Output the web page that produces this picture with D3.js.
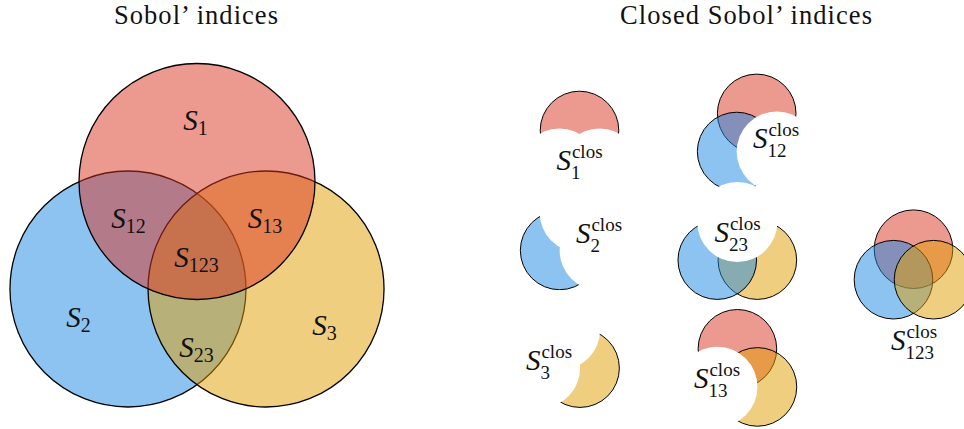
<!DOCTYPE html>
<html><head><meta charset="utf-8">
<script src="https://cdn.jsdelivr.net/npm/d3@7"></script>
<style>body{margin:0;background:#fff} svg{display:block}</style>
</head><body><svg id="c" width="964" height="429"></svg>
<script>
// ---------- data ----------
const sets = ["1", "2", "3"];
const setColors = ["#d93421", "#1c88e1", "#e19d02"];
// circle centres in units of the radius, relative to circle 1
const bigOffsetX = [0, -0.585, 0.585];
const bigOffsetY = [0, 0.911, 0.911];
const smallOffsetX = [0, -0.51, 0.51];
const smallOffsetY = [0, 0.97, 0.97];
const titles = ["Sobol’ indices", "Closed Sobol’ indices"];
const regionNames = ["1", "12", "13", "123", "2", "3", "23"];
const closedNames = ["1", "12", "2", "23", "3", "13", "123"];
const supText = "clos";

// ---------- layout ----------
const FONT = "'Liberation Serif', 'Times New Roman', serif";
const svg = d3.select("#c");
const shapesLayer = svg.append("g");
const labelLayer = svg.append("g");
const big = {cx: 197, cy: 181.5, r: 118};
const bigLabelPos = {
  "1": [195.5, 130], "12": [128.5, 228], "13": [265, 228], "123": [196.5, 267],
  "2": [78.5, 327], "3": [324.5, 335], "23": [196.5, 357]
};
const smallR = 39.3;
const smallPanels = {
  "1":   {cx: 579.5, cy: 130.5, lx: 579.5, ly: 170, order: [0]},
  "12":  {cx: 756.7, cy: 113.4, lx: 776,   ly: 148, order: [0, 1]},
  "2":   {cx: 579.7, cy: 212.3, lx: 599,   ly: 243, order: [1]},
  "23":  {cx: 737.3, cy: 222,   lx: 737.5, ly: 242, order: [2, 1]},
  "3":   {cx: 560,   cy: 330,   lx: 549,   ly: 370, order: [2]},
  "13":  {cx: 737.4, cy: 348.8, lx: 717,   ly: 388, order: [0, 2]},
  "123": {cx: 913.5, cy: 249.2, lx: 914,   ly: 350, order: [0, 1, 2], sy: 0.8}
};
const titleLayout = [{x: 196, w: 164}, {x: 746, w: 252}];

// titles
labelLayer.selectAll("text.title").data(titles).enter().append("text")
  .attr("class", "title")
  .attr("x", (d, i) => titleLayout[i].x)
  .attr("y", 24)
  .attr("text-anchor", "middle")
  .attr("font-family", FONT)
  .attr("font-size", 26.5)
  .attr("textLength", (d, i) => titleLayout[i].w)
  .attr("lengthAdjust", "spacing")
  .attr("fill", "#111")
  .text(d => d);

function mathLabel(g, cx, base, sub, sup) {
  const t = g.append("g");
  const S = t.append("text").attr("font-family", FONT).attr("font-style", "italic")
    .attr("font-size", 29).attr("y", base).attr("fill", "#111").text("S");
  const sw = S.node().getComputedTextLength();
  const subT = t.append("text").attr("font-family", FONT).attr("font-size", sup ? 19 : 20)
    .attr("y", base + (sup ? 9 : 5)).attr("fill", "#111").text(sub);
  const subW = subT.node().getComputedTextLength();
  let supW = 0, supT = null;
  if (sup) {
    supT = t.append("text").attr("font-family", FONT).attr("font-size", 19)
      .attr("y", base - 12).attr("fill", "#111").text(sup);
    supW = supT.node().getComputedTextLength();
  }
  const total = sw + Math.max(subW, supW + 1);
  const x0 = cx - total / 2;
  S.attr("x", x0);
  subT.attr("x", x0 + sw);
  if (supT) supT.attr("x", x0 + sw + 1);
}

// ---------- big Venn ----------
{
  const x = d3.scaleLinear().domain([-1, 1]).range([big.cx - big.r, big.cx + big.r]);
  const y = d3.scaleLinear().domain([-1, 1]).range([big.cy - big.r, big.cy + big.r]);
  const rr = x(1) - x(0);
  const g = shapesLayer.append("g");
  const order = [1, 2, 0];
  g.selectAll("circle").data(order).enter().append("circle")
    .attr("cx", i => x(bigOffsetX[i])).attr("cy", i => y(bigOffsetY[i])).attr("r", rr)
    .attr("fill", i => setColors[i]).attr("fill-opacity", 0.5)
    .attr("stroke", "#000").attr("stroke-width", 1.3);
  regionNames.forEach(n => {
    const p = bigLabelPos[n];
    mathLabel(labelLayer, p[0], p[1], n, null);
  });
}

// ---------- closed panels ----------
closedNames.forEach(name => {
  const P = smallPanels[name];
  const sy = P.sy || 1;
  const x = d3.scaleLinear().domain([-1, 1]).range([P.cx - smallR, P.cx + smallR]);
  const y = d3.scaleLinear().domain([-1, 1]).range([P.cy - smallR * sy, P.cy + smallR * sy]);
  const rr = x(1) - x(0);
  const g = shapesLayer.append("g");
  const inSet = P.order;
  const outSet = [0, 1, 2].filter(i => !name.includes(sets[i]));
  g.selectAll("circle.in").data(inSet).enter().append("circle")
    .attr("cx", i => x(smallOffsetX[i])).attr("cy", i => y(smallOffsetY[i])).attr("r", rr)
    .attr("fill", i => setColors[i]).attr("fill-opacity", 0.5)
    .attr("stroke", "#000").attr("stroke-width", 1);
  g.selectAll("circle.out").data(outSet).enter().append("circle")
    .attr("cx", i => x(smallOffsetX[i])).attr("cy", i => y(smallOffsetY[i])).attr("r", rr + 0.8)
    .attr("fill", "#fff");
  mathLabel(labelLayer, P.lx, P.ly, name, supText);
});
</script></body></html>
